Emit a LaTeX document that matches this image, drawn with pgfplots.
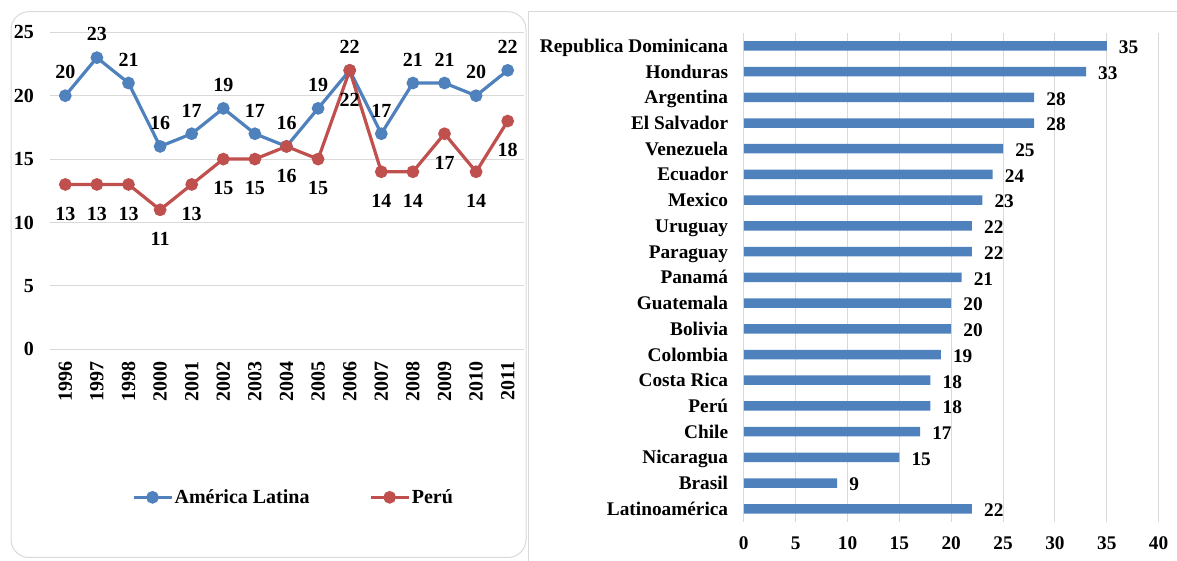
\documentclass[border=0pt]{standalone}
\usepackage{pgfplots}
\pgfplotsset{compat=1.18}
\usepackage{fontspec}
\setmainfont{Liberation Serif}
\definecolor{blueS}{HTML}{4F81BD}
\definecolor{redS}{HTML}{C0504D}
\definecolor{gridc}{HTML}{D9D9D9}
\begin{document}
\begin{tikzpicture}
\path[use as bounding box] (0,0) rectangle (1177pt,561pt);
\draw[gridc, line width=1pt, rounded corners=18pt] (11pt,3.5pt) rectangle (526pt,549.3pt);
\draw[gridc, line width=1pt] (528pt,0pt) -- (528pt,549.3pt) -- (1177pt,549.3pt);
\begin{axis}[
  at={(49.5pt,211.7pt)}, anchor=south west,
  scale only axis, width=474pt, height=317pt,
  xmin=-0.5, xmax=14.5, ymin=0, ymax=25,
  xtick={0,...,14},
  xticklabels={1996,1997,1998,2000,2001,2002,2003,2004,2005,2006,2007,2008,2009,2010,2011},
  ytick={0,5,...,25},
  axis line style={draw=none},
  major tick length=0pt,
  ymajorgrids, grid style={gridc, line width=1pt},
  tick label style={font=\fontsize{20}{24}\selectfont\bfseries, inner sep=0pt},
  xticklabel style={rotate=90, anchor=east},
  yticklabel style={anchor=east},
  xticklabel shift=12pt,
  yticklabel shift=15.5pt,
  /pgf/number format/assume math mode=true,
  legend style={at={(0.514,-0.467)}, anchor=center, draw=none, fill=none,
    font=\fontsize{20}{24}\selectfont\bfseries,
    nodes={inner sep=1.5pt},
    /tikz/every even column/.append style={column sep=58pt}},
  legend columns=2,
  legend image code/.code={\draw[#1, mark repeat=2, mark phase=2] plot coordinates {(0pt,0pt) (19pt,0pt) (38pt,0pt)};},
  clip=false,
]
\addplot[blueS, line width=3.2pt, mark=*, mark size=4.7pt, mark options={solid},
  nodes near coords,
  every node near coord/.append style={anchor=south, inner sep=0pt, yshift=15pt, text=black, font=\fontsize{20}{24}\selectfont\bfseries}]
  coordinates {(0,20) (1,23) (2,21) (3,16) (4,17) (5,19) (6,17) (7,16) (8,19) (9,22) (10,17) (11,21) (12,21) (13,20) (14,22)};
\addlegendentry{América Latina}
\addplot[redS, line width=3.2pt, mark=*, mark size=4.7pt, mark options={solid},
  nodes near coords,
  every node near coord/.append style={anchor=north, inner sep=0pt, yshift=-21pt, text=black, font=\fontsize{20}{24}\selectfont\bfseries}]
  coordinates {(0,13) (1,13) (2,13) (3,11) (4,13) (5,15) (6,15) (7,16) (8,15) (9,22) (10,14) (11,14) (12,17) (13,14) (14,18)};
\addlegendentry{Perú}
\end{axis}
\begin{axis}[
  at={(743.8pt,39.3pt)}, anchor=south west,
  scale only axis, width=414.8pt, height=488.7pt,
  xbar, bar width=9.5pt,
  xmin=0, xmax=40, ymin=-0.5, ymax=18.5,
  ytick={0,...,18},
  yticklabels={Latinoamérica,Brasil,Nicaragua,Chile,Perú,Costa Rica,Colombia,Bolivia,Guatemala,Panamá,Paraguay,Uruguay,Mexico,Ecuador,Venezuela,El Salvador,Argentina,Honduras,Republica Dominicana},
  xtick={0,5,...,40},
  axis line style={draw=none},
  major tick length=0pt,
  xmajorgrids, grid style={gridc, line width=1pt},
  tick label style={font=\fontsize{19.3}{23}\selectfont\bfseries, inner sep=0pt},
  yticklabel style={anchor=base east, yshift=-6.5pt},
  xticklabel style={anchor=north},
  yticklabel shift=15.5pt,
  xticklabel shift=15pt,
  /pgf/number format/assume math mode=true,
  clip=false,
]
\addplot[fill=blueS, draw=none,
  nodes near coords,
  every node near coord/.append style={anchor=west, inner sep=0pt, xshift=12pt, yshift=-1.5pt, text=black, font=\fontsize{19.3}{23}\selectfont\bfseries}]
  coordinates {(22,0) (9,1) (15,2) (17,3) (18,4) (18,5) (19,6) (20,7) (20,8) (21,9) (22,10) (22,11) (23,12) (24,13) (25,14) (28,15) (28,16) (33,17) (35,18)};
\end{axis}
\end{tikzpicture}
\end{document}
